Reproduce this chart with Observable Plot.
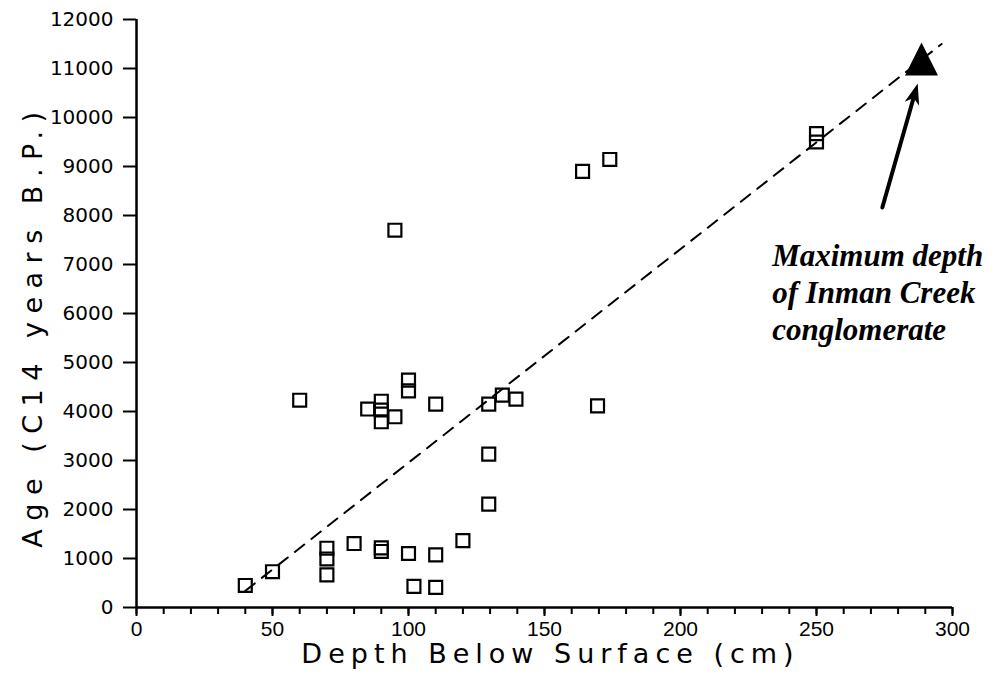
<!DOCTYPE html>
<html><head><meta charset="utf-8">
<script src="https://cdn.jsdelivr.net/npm/d3@7"></script>
<script src="https://cdn.jsdelivr.net/npm/@observablehq/plot@0.6"></script>
<style>
body{margin:0;background:#fff;}
</style></head><body><div id="chart"></div>
<script>
// Radiocarbon samples: depth (cm) and age (C14 years B.P.)
const depth = [40, 50, 60, 70, 70, 70, 80, 85, 90, 90, 90, 90, 90, 95, 95, 100, 100, 100, 102, 110, 110, 110, 120, 129.5, 129.5, 129.5, 134.5, 139.5, 164, 169.5, 174, 250, 250];
const age   = [450, 730, 4230, 1210, 990, 665, 1306, 4050, 4210, 4030, 3790, 1218, 1143, 3892, 7700, 4640, 4420, 1102, 430, 4150, 1075, 410, 1365, 4150, 3130, 2110, 4334, 4253, 8900, 4116, 9143, 9670, 9500];

// Dashed age-depth trend line
const fitDepth = [40, 296];
const fitAge = [340, 11500];

// Maximum depth of Inman Creek conglomerate (triangle) and its pointer
const markerDepth = [288.6];
const markerAge = [11160];
const arrowFrom = {depth: 274.2, age: 8163};
const arrowTo = {depth: 287.2, age: 10694};
const noteLines = ["Maximum depth", "of Inman Creek", "conglomerate"];
const noteAt = {depth: 233.7, age: 7500};

// Axis ticks
const xTicks = [0, 50, 100, 150, 200, 250, 300];
const xMinorTicks = [0, 10, 20, 30, 40, 50, 60, 70, 80, 90, 100, 110, 120, 130, 140, 150, 160, 170, 180, 190, 200, 210, 220, 230, 240, 250, 260, 270, 280, 290, 300];
const yTicks = [0, 1000, 2000, 3000, 4000, 5000, 6000, 7000, 8000, 9000, 10000, 11000, 12000];

const xTitle = "Depth Below Surface (cm)";
const yTitle = "Age (C14 years B.P.)";

const W = 992, H = 679, ML = 136, MR = 40, MT = 19, MB = 72;
const xDomain = [0, 300], yDomain = [0, 12000];

const samples = depth.map((d, i) => ({depth: d, age: age[i]}));
const fit = fitDepth.map((d, i) => ({depth: d, age: fitAge[i]}));
const marker = markerDepth.map((d, i) => ({depth: d, age: markerAge[i]}));

const tallTriangle = {
  draw(context, size) {
    const r = Math.sqrt(size / Math.PI);
    context.moveTo(0, -1.1 * r);
    context.lineTo(r, 0.9 * r);
    context.lineTo(-r, 0.9 * r);
    context.closePath();
  }
};
// filled, barbed arrowhead with its tip at the origin, pointing up
const arrowHeadSymbol = {
  draw(context) {
    context.moveTo(0, 0);
    context.lineTo(7.5, 21);
    context.lineTo(0, 15);
    context.lineTo(-7.5, 21);
    context.closePath();
  }
};
// direction of the pointer on screen (clockwise degrees from vertical)
const kx = (W - ML - MR) / (xDomain[1] - xDomain[0]);
const ky = (H - MT - MB) / (yDomain[1] - yDomain[0]);
const arrowAngle = Math.atan2((arrowTo.depth - arrowFrom.depth) * kx, (arrowTo.age - arrowFrom.age) * ky) * 180 / Math.PI;

const chart = Plot.plot({
  width: W,
  height: H,
  marginLeft: ML,
  marginRight: MR,
  marginTop: MT,
  marginBottom: MB,
  style: {background: "white", color: "black"},
  x: {domain: xDomain},
  y: {domain: yDomain},
  marks: [
    Plot.axisX({ticks: xMinorTicks, tickSize: 7, strokeWidth: 2, text: null, label: null}),
    Plot.axisX({ticks: xTicks, tickSize: 9, strokeWidth: 2, text: null, label: null}),
    Plot.axisY({ticks: yTicks, tickSize: 13, strokeWidth: 2, text: null, label: null}),
    Plot.text(xTicks, {x: d => d, frameAnchor: "bottom", lineAnchor: "top", dy: 14, text: d => String(d),
      fontSize: 21, fontFamily: "Liberation Sans", fill: "black"}),
    Plot.text(yTicks, {y: d => d, frameAnchor: "left", textAnchor: "end", dx: -23, text: d => String(d),
      fontSize: 20, fontFamily: "DejaVu Sans", fill: "black"}),
    Plot.ruleX([0], {strokeWidth: 2.5}),
    Plot.ruleY([0], {strokeWidth: 2.5}),
    Plot.line(fit, {x: "depth", y: "age", stroke: "black", strokeWidth: 2, strokeDasharray: "12,9"}),
    Plot.dot(samples, {x: "depth", y: "age", symbol: "square", r: 7.3, stroke: "black", strokeWidth: 2.2, fill: "none"}),
    Plot.dot(marker, {x: "depth", y: "age", symbol: tallTriangle, r: 16.5, fill: "black", stroke: "none"}),
    Plot.arrow([{x1: arrowFrom.depth, y1: arrowFrom.age, x2: arrowTo.depth, y2: arrowTo.age}],
      {x1: "x1", y1: "y1", x2: "x2", y2: "y2", stroke: "black", strokeWidth: 4, headLength: 0, insetEnd: 14}),
    Plot.dot([arrowTo], {x: "depth", y: "age", symbol: arrowHeadSymbol, r: 5, rotate: arrowAngle, fill: "black", stroke: "none"}),
    Plot.text([noteAt], {x: "depth", y: "age", text: () => noteLines.join("\n"), textAnchor: "start", lineAnchor: "top",
      lineHeight: 1.19, fontSize: 31, fontFamily: "Liberation Serif", fontStyle: "italic", fontWeight: "bold", fill: "black"}),
    Plot.text([xTitle], {frameAnchor: "bottom", textAnchor: "middle", dx: 6, dy: 55, lineAnchor: "bottom", fontSize: 27, fontFamily: "DejaVu Sans", fill: "black"}),
    Plot.text([yTitle], {frameAnchor: "left", textAnchor: "middle", dx: -95, dy: 12, rotate: -90, lineAnchor: "bottom", fontSize: 27, fontFamily: "DejaVu Sans", fill: "black"})
  ]
});
const sel = d3.select(chart);
sel.selectAll("text").filter(function() { return this.textContent === xTitle; }).style("letter-spacing", "6px");
sel.selectAll("text").filter(function() { return this.textContent === yTitle; }).style("letter-spacing", "8.5px");
document.getElementById("chart").append(chart);
</script></body></html>
